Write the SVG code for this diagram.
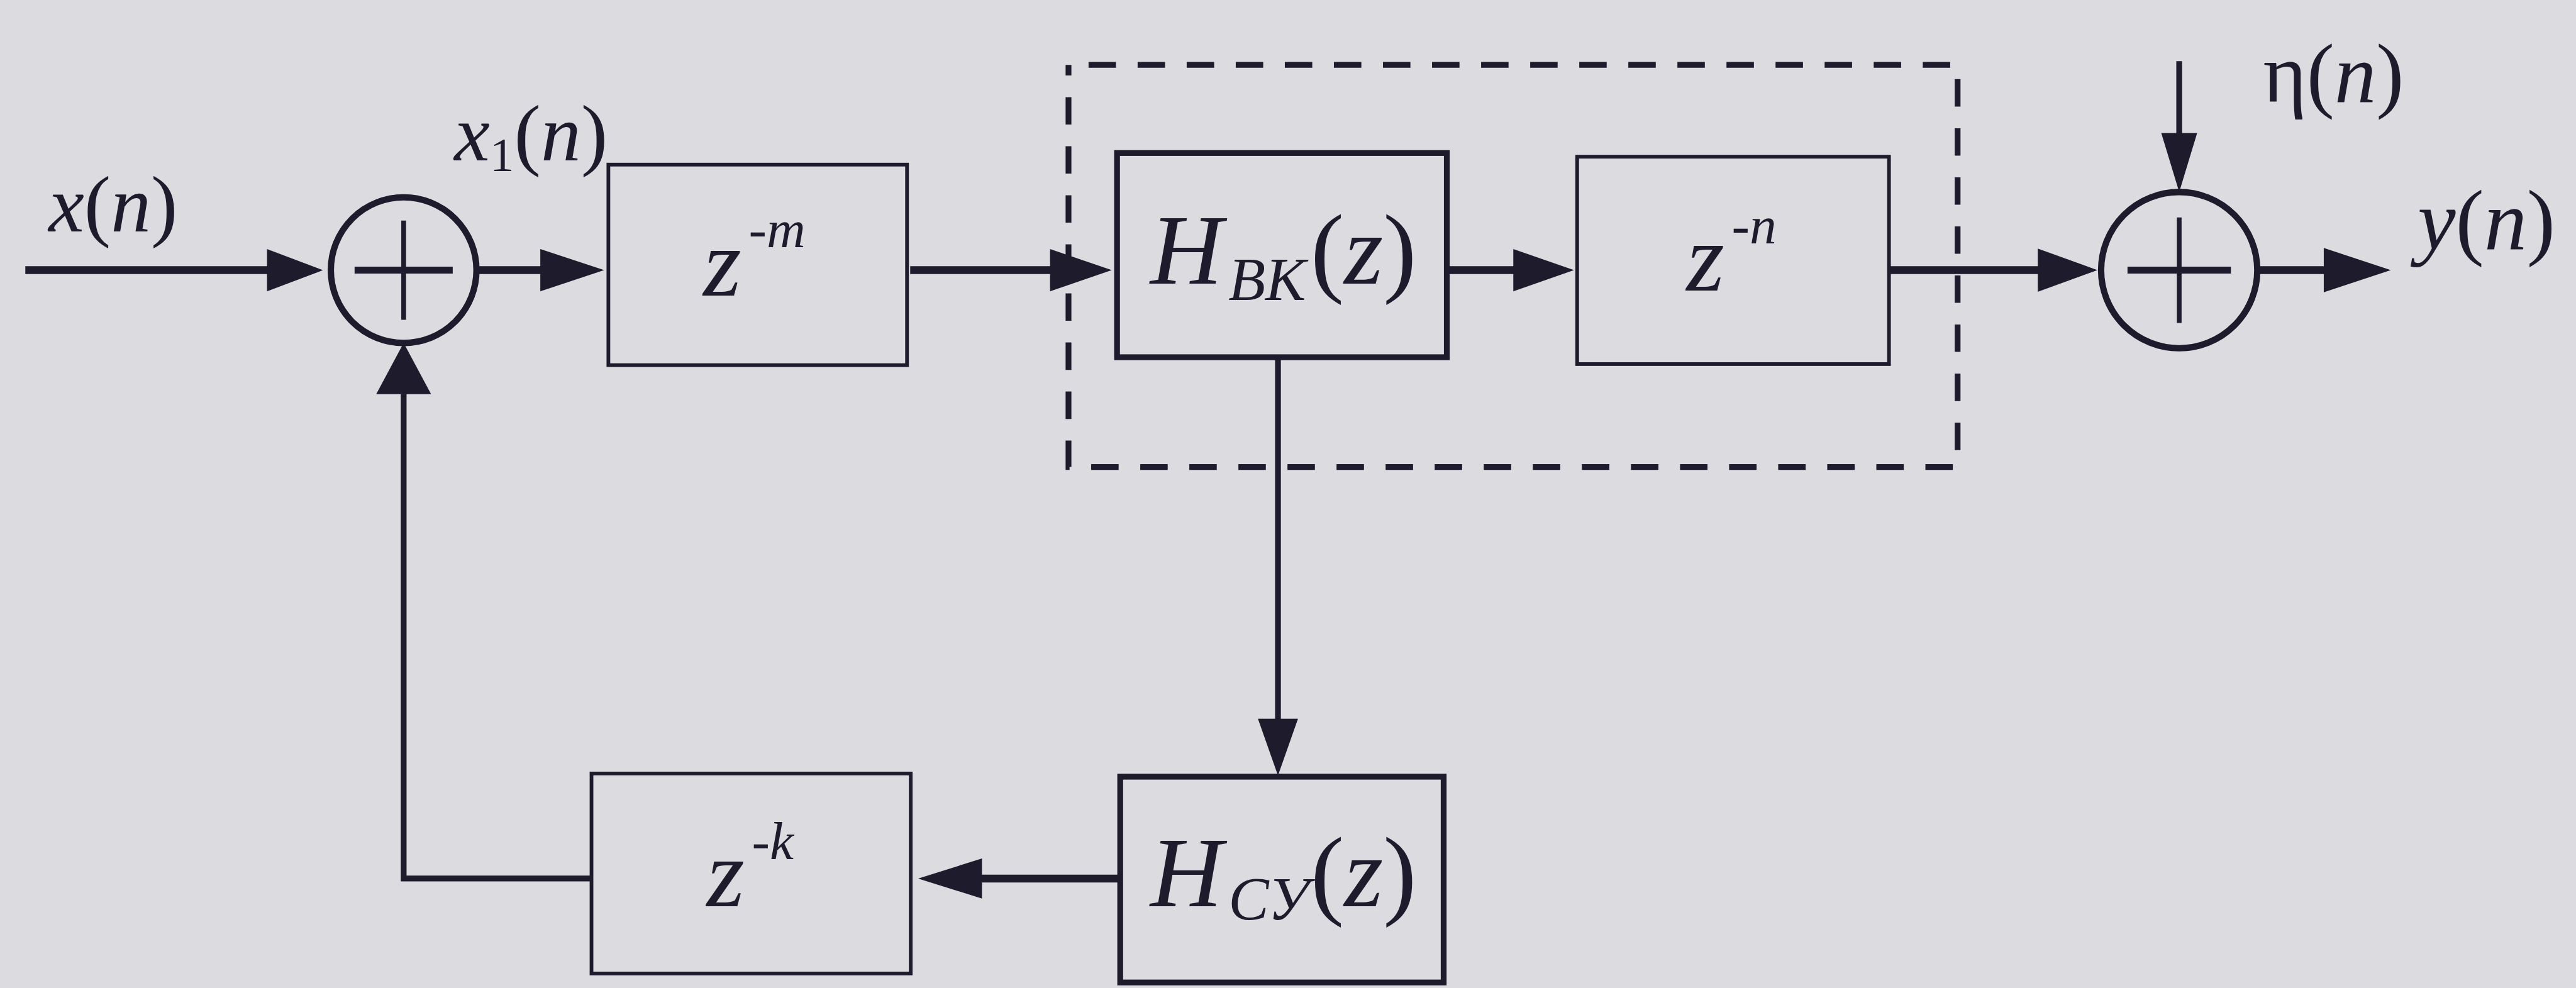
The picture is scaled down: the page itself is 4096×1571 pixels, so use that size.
<svg xmlns="http://www.w3.org/2000/svg" width="4096" height="1571" viewBox="0 0 4096 1571">
<style>
.bg{fill:#dcdce0}
.box{fill:none;stroke:#1d1b2c;stroke-width:7}
.hbox{fill:none;stroke:#1d1b2c;stroke-width:11}
.sum{fill:none;stroke:#1d1b2c;stroke-width:12}
.ph{stroke:#1d1b2c;stroke-width:13;fill:none}
.pv{stroke:#1d1b2c;stroke-width:9;fill:none}
.sig{stroke:#1d1b2c;stroke-width:15;fill:none}
.fb{stroke:#1d1b2c;stroke-width:11;fill:none;stroke-linejoin:miter}
.dash{fill:none;stroke:#1d1b2c;stroke-width:11;stroke-dasharray:52 41;stroke-dashoffset:55}
.ah{fill:#1d1b2c}
text{font-family:"Liberation Serif","Times New Roman",serif;fill:#1d1b2c}
.i{font-style:italic}
</style>
<rect class="bg" x="0" y="0" width="4096" height="1571"/>
<g transform="scale(0.839)">
  <g id="frame">
    <rect class="dash" x="2025" y="123" width="1685" height="762"/>
  </g>
  <g id="sum1">
    <circle class="sum" cx="765" cy="512" r="138"/>
    <line class="ph" x1="672" y1="512" x2="858" y2="512"/>
    <line class="pv" x1="765" y1="418" x2="765" y2="606"/>
  </g>
  <g id="sum2">
    <circle class="sum" cx="4130" cy="512" r="148"/>
    <line class="ph" x1="4032" y1="512" x2="4228" y2="512"/>
    <line class="pv" x1="4130" y1="412" x2="4130" y2="612"/>
  </g>
  <g id="zm">
    <rect class="box" x="1153" y="312" width="566" height="380"/>
    <text x="1333" y="560" font-size="185" class="i">z</text>
    <text x="1419" y="469" font-size="102">-<tspan class="i">m</tspan></text>
  </g>
  <g id="hbk">
    <rect class="hbox" x="2117" y="290" width="625" height="387"/>
    <text x="2180" y="538" font-size="190" class="i">H</text>
    <text x="2328" y="569" font-size="115" class="i">ВК</text>
    <text x="2484" y="538" font-size="190">(<tspan class="i">z</tspan>)</text>
  </g>
  <g id="zn">
    <rect class="box" x="2989" y="297" width="591" height="393"/>
    <text x="3196" y="551" font-size="185" class="i">z</text>
    <text x="3282" y="461" font-size="102">-<tspan class="i">n</tspan></text>
  </g>
  <g id="hcy">
    <rect class="hbox" x="2123" y="1472" width="613" height="390"/>
    <text x="2180" y="1718" font-size="190" class="i">H</text>
    <text x="2328" y="1743" font-size="115" class="i">СУ</text>
    <text x="2484" y="1718" font-size="190">(<tspan class="i">z</tspan>)</text>
  </g>
  <g id="zk">
    <rect class="box" x="1121" y="1466" width="605" height="379"/>
    <text x="1339" y="1718" font-size="185" class="i">z</text>
    <text x="1425" y="1628" font-size="102">-<tspan class="i">k</tspan></text>
  </g>
  <g id="labels">
    <text x="92" y="439" font-size="152"><tspan class="i">x</tspan>(<tspan class="i">n</tspan>)</text>
    <text x="861" y="304" font-size="152"><tspan class="i">x</tspan><tspan font-size="92" dy="20">1</tspan><tspan dy="-20">(</tspan><tspan class="i">n</tspan>)</text>
    <text x="4289" y="193" font-size="158">η(<tspan class="i">n</tspan>)</text>
    <text x="4582" y="472" font-size="162"><tspan class="i">y</tspan>(<tspan class="i">n</tspan>)</text>
  </g>
  <g id="connectors">
    <line class="sig" x1="48" y1="512" x2="510" y2="512"/>
    <polygon class="ah" points="506,472 612,512 506,552"/>
    <line class="sig" x1="903" y1="512" x2="1028" y2="512"/>
    <polygon class="ah" points="1024,472 1145,512 1024,552"/>
    <line class="sig" x1="1725" y1="512" x2="1994" y2="512"/>
    <polygon class="ah" points="1990,472 2107,512 1990,552"/>
    <line class="sig" x1="2742" y1="512" x2="2872" y2="512"/>
    <polygon class="ah" points="2868,472 2983,512 2868,552"/>
    <line class="sig" x1="3580" y1="512" x2="3866" y2="512"/>
    <polygon class="ah" points="3862,471 3975,512 3862,553"/>
    <line class="sig" x1="4278" y1="512" x2="4408" y2="512"/>
    <polygon class="ah" points="4404,470 4531,512 4404,554"/>
    <line class="fb" x1="4130" y1="116" x2="4130" y2="256"/>
    <polygon class="ah" points="4096,252 4130,364 4164,252"/>
    <line class="fb" x1="2422" y1="677" x2="2422" y2="1366"/>
    <polygon class="ah" points="2384,1362 2422,1470 2460,1362"/>
    <line class="sig" x1="2123" y1="1665" x2="1857" y2="1665"/>
    <polygon class="ah" points="1861,1627 1740,1665 1861,1703"/>
    <polyline class="fb" points="1121,1665 765,1665 765,743"/>
    <polygon class="ah" points="713,747 765,650 817,747"/>
  </g>
</g>
</svg>
